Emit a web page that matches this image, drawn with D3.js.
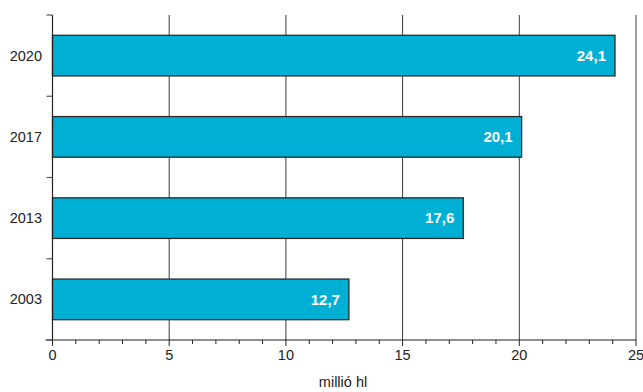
<!DOCTYPE html>
<html>
<head>
<meta charset="utf-8">
<script src="https://cdn.jsdelivr.net/npm/d3@7"></script>
<style>
  html, body { margin: 0; padding: 0; background: #fff; }
  svg { display: block; font-family: "Liberation Sans", Arial, Helvetica, sans-serif; }
</style>
</head>
<body>
<svg id="chart" width="643" height="392"></svg>
<script>
// Years, top to bottom
const years = ["2020", "2017", "2013", "2003"];
// Volume in million hectolitres
const volumes = [24.1, 20.1, 17.6, 12.7];
const valueLabels = ["24,1", "20,1", "17,6", "12,7"];
const xTicks = [0, 5, 10, 15, 20, 25];
const axisTitle = "millió hl";

(function () {
  const svg = d3.select("#chart");
  const plotLeft = 52.5, plotRight = 636, plotTop = 15, plotBottom = 340;

  const x = d3.scaleLinear().domain([0, 25]).range([plotLeft, plotRight]);
  const y = d3.scaleBand().domain(years).range([plotTop, plotBottom]).padding(0);
  const barH = y.bandwidth() * 0.5;

  // vertical gridlines
  svg.append("g")
    .selectAll("line")
    .data(xTicks.slice(1))
    .join("line")
    .attr("x1", d => x(d)).attr("x2", d => x(d))
    .attr("y1", plotTop).attr("y2", plotBottom)
    .attr("stroke", "#3a3a3a").attr("stroke-width", 1);

  // bars
  svg.append("g")
    .selectAll("rect")
    .data(years)
    .join("rect")
    .attr("x", x(0))
    .attr("y", d => y(d) + (y.bandwidth() - barH) / 2)
    .attr("width", (d, i) => x(volumes[i]) - x(0))
    .attr("height", barH)
    .attr("fill", "#00b0d4")
    .attr("stroke", "#2b2b2b")
    .attr("stroke-width", 1.3);

  // value labels inside the bar ends
  svg.append("g")
    .selectAll("text")
    .data(years)
    .join("text")
    .attr("x", (d, i) => x(volumes[i]) - 9)
    .attr("y", d => y(d) + y.bandwidth() / 2)
    .attr("dy", "0.35em")
    .attr("text-anchor", "end")
    .attr("fill", "#fff")
    .attr("font-weight", "bold")
    .attr("font-size", 15)
    .text((d, i) => valueLabels[i]);

  // x axis with minor ticks
  const xMinor = d3.range(0, 26, 1);
  const gx = svg.append("g").attr("transform", `translate(0,${plotBottom})`);
  gx.append("line").attr("x1", x(0) - 7).attr("x2", x(25)).attr("stroke", "#222").attr("stroke-width", 1.2);
  gx.selectAll(".minor")
    .data(xMinor)
    .join("line")
    .attr("class", "minor")
    .attr("x1", d => x(d)).attr("x2", d => x(d))
    .attr("y1", 0).attr("y2", d => d % 5 === 0 ? 6 : 4)
    .attr("stroke", "#222").attr("stroke-width", 1);
  gx.selectAll("text")
    .data(xTicks)
    .join("text")
    .attr("x", d => x(d))
    .attr("y", 19.5)
    .attr("text-anchor", "middle")
    .attr("font-size", 14.5)
    .attr("fill", "#222")
    .text(d => d);

  // y axis: line, ticks at band boundaries, year labels
  const gy = svg.append("g");
  gy.append("line").attr("x1", plotLeft).attr("x2", plotLeft).attr("y1", plotTop).attr("y2", plotBottom)
    .attr("stroke", "#222").attr("stroke-width", 1.2);
  const boundaries = years.map(d => y(d)).concat([plotBottom]);
  gy.selectAll(".tick")
    .data(boundaries)
    .join("line")
    .attr("class", "tick")
    .attr("x1", plotLeft - 6).attr("x2", plotLeft)
    .attr("y1", d => d).attr("y2", d => d)
    .attr("stroke", "#555").attr("stroke-width", 1.2);
  gy.selectAll("text")
    .data(years)
    .join("text")
    .attr("x", 42)
    .attr("y", d => y(d) + y.bandwidth() / 2)
    .attr("dy", "0.35em")
    .attr("text-anchor", "end")
    .attr("font-size", 14.5)
    .attr("fill", "#222")
    .text(d => d);

  // axis title
  svg.append("text")
    .attr("x", 343)
    .attr("y", 387)
    .attr("text-anchor", "middle")
    .attr("font-size", 14.5)
    .attr("fill", "#222")
    .text(axisTitle);
})();
</script>
</body>
</html>
